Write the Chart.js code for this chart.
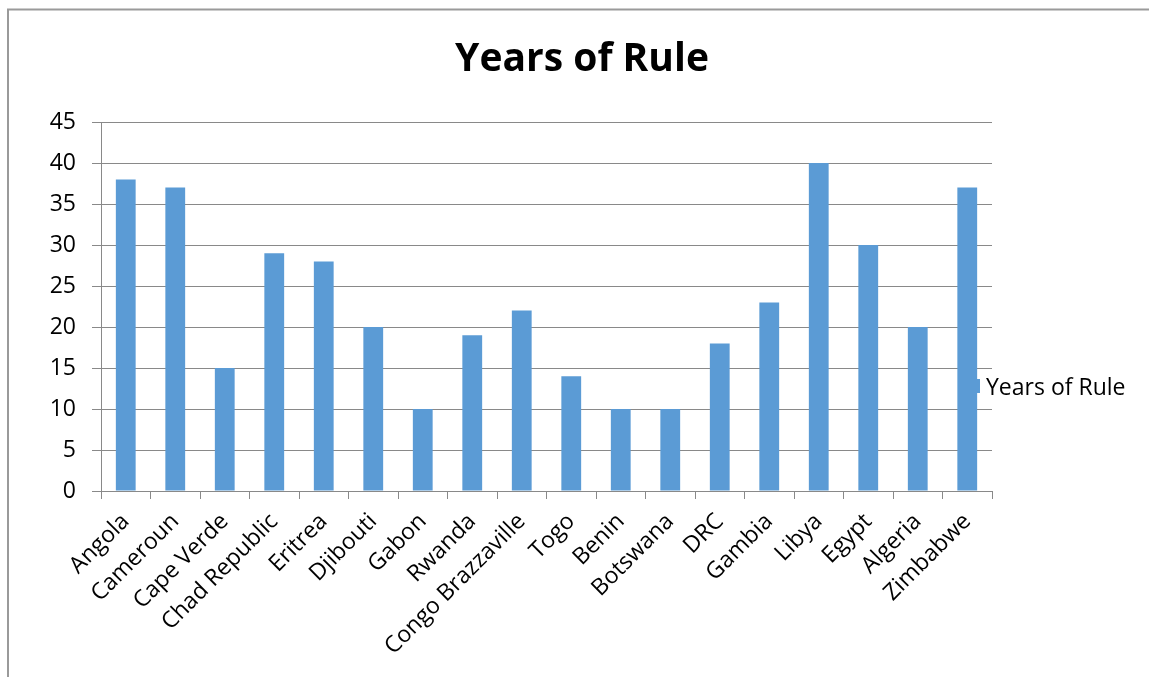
<!DOCTYPE html>
<html>
<head>
<meta charset="utf-8">
<script src="https://cdn.jsdelivr.net/npm/chart.js@4.4.1/dist/chart.umd.min.js"></script>
<style>
  html, body { margin: 0; padding: 0; background: #fff; }
  #wrap { width: 1149px; height: 677px; position: relative; }
</style>
</head>
<body>
<div id="wrap"><canvas id="c" width="1149" height="677"></canvas></div>
<script>
const categories = ["Angola", "Cameroun", "Cape Verde", "Chad Republic", "Eritrea", "Djibouti", "Gabon", "Rwanda", "Congo Brazzaville", "Togo", "Benin", "Botswana", "DRC", "Gambia", "Libya", "Egypt", "Algeria", "Zimbabwe"];
const yearsOfRule = [38, 37, 15, 29, 28, 20, 10, 19, 22, 14, 10, 10, 18, 23, 40, 30, 20, 37];
const seriesName = "Years of Rule";
const chartTitle = "Years of Rule";
const yMin = 0, yMax = 45, yStep = 5;

const FONT = "'Open Sans', Lato, sans-serif";
const BAR = "#5B9BD5";
const GRID = "#898989";

const framePlugin = {
  id: 'frame',
  beforeDraw(chart) {
    const ctx = chart.ctx;
    ctx.save();
    ctx.fillStyle = '#fff';
    ctx.fillRect(0, 0, chart.width, chart.height);
    ctx.strokeStyle = '#9a9a9a';
    ctx.lineWidth = 2;
    ctx.beginPath();
    ctx.moveTo(8, chart.height);
    ctx.lineTo(8, 9.5);
    ctx.lineTo(chart.width, 9.5);
    ctx.stroke();
    ctx.restore();
  },
  afterDraw(chart) {
    const ctx = chart.ctx;
    ctx.save();
    // title
    ctx.fillStyle = '#000';
    ctx.font = "bold 39px " + FONT;
    ctx.textAlign = 'center';
    ctx.textBaseline = 'alphabetic';
    ctx.fillText(chartTitle, 582, 71);
    // legend
    ctx.fillStyle = BAR;
    ctx.fillRect(966, 379, 14, 14);
    ctx.fillStyle = '#000';
    ctx.font = "23px " + FONT;
    ctx.textBaseline = 'alphabetic';
    ctx.textAlign = 'left';
    ctx.fillText(seriesName, 986, 395);
    ctx.restore();
  }
};

new Chart(document.getElementById('c'), {
  type: 'bar',
  data: {
    labels: categories,
    datasets: [{
      label: seriesName,
      data: yearsOfRule,
      backgroundColor: BAR,
      borderWidth: 0,
      barPercentage: 0.4,
      categoryPercentage: 1.0
    }]
  },
  options: {
    responsive: false,
    animation: false,
    layout: { padding: { left: 0, right: 157, top: 122, bottom: 0 } },
    plugins: {
      legend: { display: false },
      tooltip: { enabled: false },
      title: { display: false }
    },
    scales: {
      x: {
        afterFit(scale) { scale.height = 186; },
        grid: { display: true, drawOnChartArea: false, drawTicks: true, tickLength: 8, color: GRID, offset: true },
        border: { display: true, color: GRID, width: 1 },
        ticks: {
          autoSkip: false, minRotation: 45, maxRotation: 45,
          color: '#000', padding: 9,
          font: { family: FONT, size: 23 }
        }
      },
      y: {
        min: yMin, max: yMax,
        afterFit(scale) { scale.width = 101; },
        grid: { color: GRID, tickLength: 9, drawTicks: true },
        border: { display: true, color: GRID, width: 1 },
        ticks: {
          stepSize: yStep, color: '#000', padding: 16,
          font: { family: FONT, size: 23 }
        }
      }
    }
  },
  plugins: [framePlugin]
});
</script>
</body>
</html>
